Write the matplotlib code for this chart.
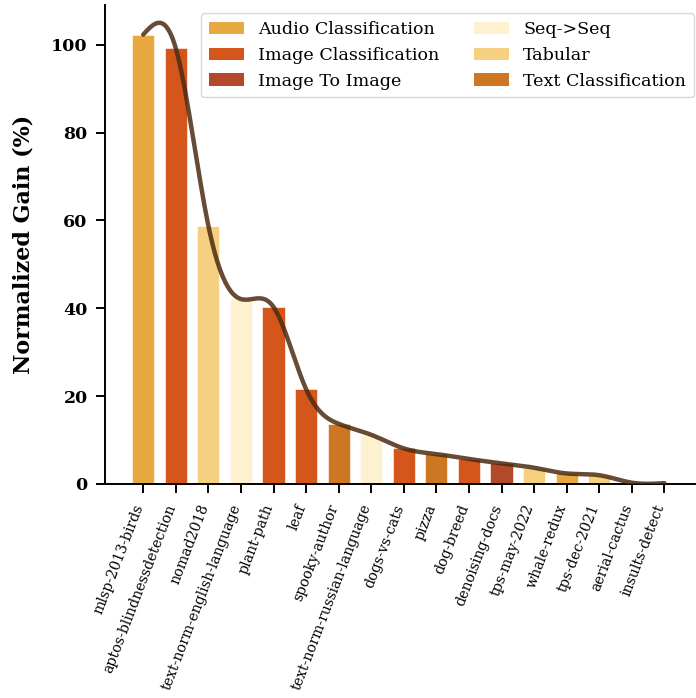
import matplotlib
import numpy as np

matplotlib.use("Agg")
import matplotlib.pyplot as plt
from matplotlib.patches import Patch

# Competitions, their normalized gain and task type.
competitions = [
    "mlsp-2013-birds", "aptos-blindnessdetection", "nomad2018",
    "text-norm-english-language", "plant-path", "leaf", "spooky-author",
    "text-norm-russian-language", "dogs-vs-cats", "pizza", "dog-breed",
    "denoising-docs", "tps-may-2022", "whale-redux", "tps-dec-2021",
    "aerial-cactus", "insults-detect",
]
gains = [102.3, 99.2, 58.8, 42.1, 40.3, 21.6, 13.7, 11.2, 8.1, 6.8, 5.7,
         4.7, 3.7, 2.4, 2.0, 0.3, 0.2]
tasks = [
    "Audio Classification", "Image Classification", "Tabular", "Seq->Seq",
    "Image Classification", "Image Classification", "Text Classification",
    "Seq->Seq", "Image Classification", "Text Classification",
    "Image Classification", "Image To Image", "Tabular",
    "Audio Classification", "Tabular", "Image Classification",
    "Text Classification",
]
task_names = ["Audio Classification", "Image Classification", "Image To Image",
              "Seq->Seq", "Tabular", "Text Classification"]
task_colors = ["#e8a940", "#d5561b", "#b3482b", "#fef1cf", "#f5d080", "#cc7722"]


def natural_spline(x, y, xs):
    """Natural cubic spline through (x, y), evaluated at xs (numpy only)."""
    x = np.asarray(x, float)
    y = np.asarray(y, float)
    n = len(x)
    h = np.diff(x)
    A = np.zeros((n, n))
    b = np.zeros(n)
    A[0, 0] = A[-1, -1] = 1.0
    for i in range(1, n - 1):
        A[i, i - 1] = h[i - 1]
        A[i, i] = 2 * (h[i - 1] + h[i])
        A[i, i + 1] = h[i]
        b[i] = 3 * ((y[i + 1] - y[i]) / h[i] - (y[i] - y[i - 1]) / h[i - 1])
    c = np.linalg.solve(A, b)
    idx = np.clip(np.searchsorted(x, xs) - 1, 0, n - 2)
    dx = xs - x[idx]
    bb = (y[idx + 1] - y[idx]) / h[idx] - h[idx] * (2 * c[idx] + c[idx + 1]) / 3
    d = (c[idx + 1] - c[idx]) / (3 * h[idx])
    return y[idx] + bb * dx + c[idx] * dx ** 2 + d * dx ** 3


plt.rcParams["font.family"] = "DejaVu Serif"

fig = plt.figure(figsize=(6.96, 6.98), dpi=100)
ax = fig.add_axes([0.151, 0.3066, 0.849, 0.686])

color_of = dict(zip(task_names, task_colors))
pos = np.arange(len(competitions))
ax.bar(pos, gains, width=0.68, color=[color_of[t] for t in tasks],
       edgecolor="white", linewidth=0.4, zorder=2)

xs = np.linspace(0, len(competitions) - 1, 400)
ax.plot(xs, natural_spline(pos, gains, xs), color="#4d2b12", alpha=0.85,
        linewidth=3.2, solid_capstyle="round", zorder=3)

ax.set_xlim(-1.17, 16.97)
ax.set_ylim(0, 109)
ax.set_xticks(pos)
ax.set_xticklabels(competitions, rotation=69, ha="right", va="baseline",
                   rotation_mode="anchor", fontsize=10.2)
ax.set_yticks([0, 20, 40, 60, 80, 100])
for lab in ax.get_yticklabels():
    lab.set_fontweight("bold")
    lab.set_fontsize(12.5)
ax.set_ylabel("Normalized Gain (%)", fontsize=16, fontweight="bold",
              labelpad=12)
ax.tick_params(axis="both", width=1.4, length=6.5)
ax.tick_params(axis="x", pad=9.5)
ax.tick_params(axis="y", pad=6)
for side in ("top", "right"):
    ax.spines[side].set_visible(False)
for side in ("left", "bottom"):
    ax.spines[side].set_linewidth(1.4)

handles = [Patch(facecolor=c, label=n) for n, c in zip(task_names, task_colors)]
ax.legend(handles=handles, ncol=2, loc="upper right", fontsize=12.6,
          bbox_to_anchor=(1.0025, 0.9906), borderaxespad=0.2,
          handlelength=2.0, columnspacing=2.0, borderpad=0.45,
          labelspacing=0.5, handletextpad=0.8)

fig.savefig("out.png", dpi=100)
